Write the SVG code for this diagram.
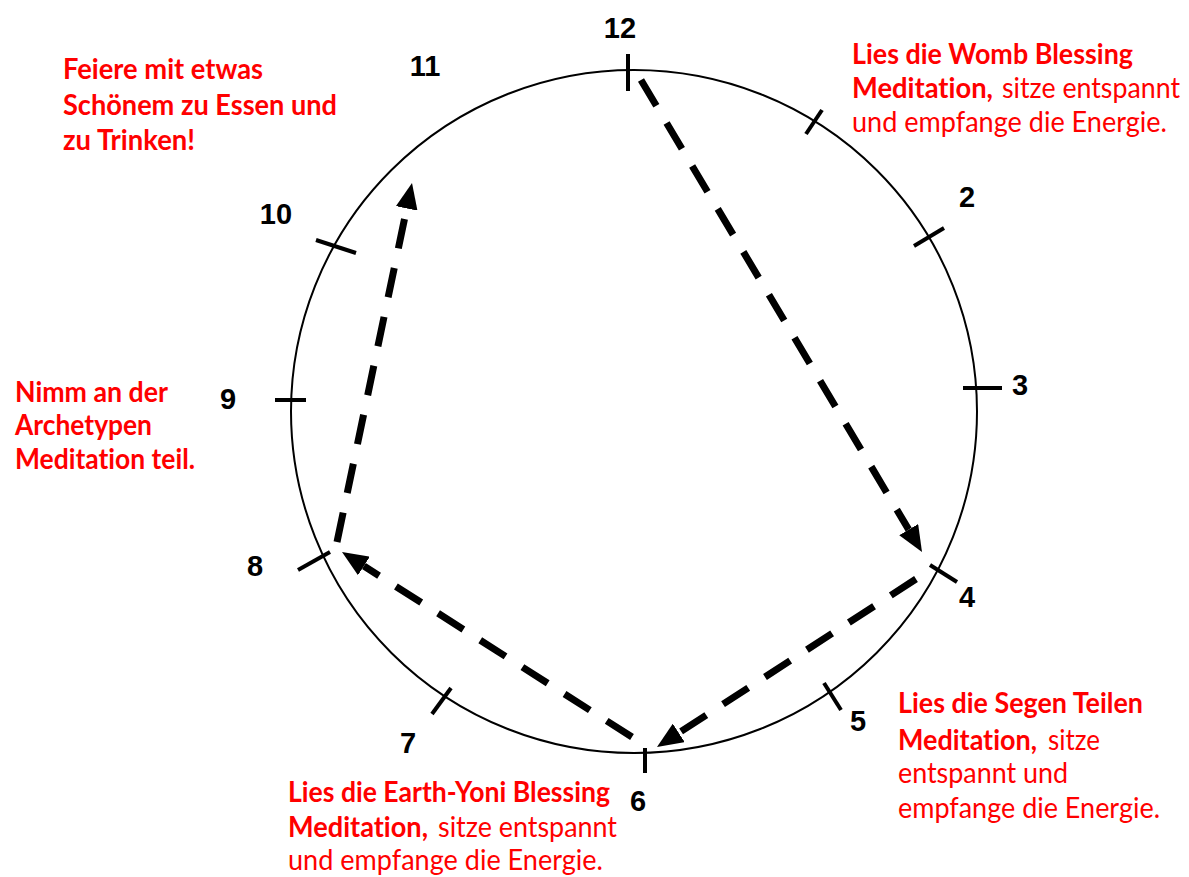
<svg xmlns="http://www.w3.org/2000/svg" width="1189" height="877" viewBox="0 0 1189 877">
<style>
.num{font-family:"Liberation Sans",Arial,sans-serif;font-weight:bold;font-size:29px;fill:#000;text-anchor:middle}
.rb{font-family:Lato,"Liberation Sans",sans-serif;font-weight:bold;font-size:28px;fill:#ff0000;font-variant-ligatures:none}
.rr{font-family:Lato,"Liberation Sans",sans-serif;font-weight:normal;font-size:28px;fill:#ff0000;font-variant-ligatures:none}
.tick{stroke:#000;stroke-width:4;fill:none}
.arr{stroke:#000;stroke-width:7;fill:none;stroke-dasharray:30 20;marker-end:url(#ah)}
</style>
<defs>
<marker id="ah" markerUnits="userSpaceOnUse" viewBox="0 0 26 22" refX="0" refY="11" markerWidth="26" markerHeight="22" orient="auto">
<path d="M0,0 L26,11 L0,22 z" fill="#000"/>
</marker>
</defs>
<rect width="1189" height="877" fill="#fff"/>
<g id="clock">
<ellipse cx="634" cy="411.5" rx="343" ry="341.5" fill="none" stroke="#000" stroke-width="2"/>
<line class="tick" x1="628" y1="54" x2="628" y2="91"/>
<line class="tick" x1="806" y1="134" x2="822" y2="110"/>
<line class="tick" x1="914" y1="246" x2="944" y2="228"/>
<line class="tick" x1="963" y1="388" x2="1002" y2="388"/>
<line class="tick" x1="930" y1="565" x2="957" y2="582"/>
<line class="tick" x1="824" y1="683" x2="841" y2="710"/>
<line class="tick" x1="645" y1="748" x2="645" y2="773"/>
<line class="tick" x1="432" y1="714" x2="451" y2="688"/>
<line class="tick" x1="298" y1="570" x2="330" y2="552"/>
<line class="tick" x1="275" y1="400" x2="306" y2="400"/>
<line class="tick" x1="316" y1="240" x2="356" y2="253"/>
</g>
<g id="labels">
<text class="num" x="620" y="38">12</text>
<text class="num" x="425" y="76">11</text>
<text class="num" x="967" y="207">2</text>
<text class="num" x="1020" y="395">3</text>
<text class="num" x="967" y="607">4</text>
<text class="num" x="858" y="731">5</text>
<text class="num" x="638" y="811">6</text>
<text class="num" x="408" y="753">7</text>
<text class="num" x="255" y="576">8</text>
<text class="num" x="228" y="409">9</text>
<text class="num" x="276" y="224">10</text>
</g>
<g id="connectors">
<path class="arr" d="M641,80 L908.7,529.6"/>
<path class="arr" d="M916,579 L678.8,732.9"/>
<path class="arr" d="M632,737 L363.9,566"/>
<path class="arr" d="M337,542 L406.7,208.4"/>
</g>
<g id="note-top-right">
<text class="rb" x="852" y="64" textLength="281" lengthAdjust="spacingAndGlyphs">Lies die Womb Blessing</text>
<text class="rb" x="852" y="98" textLength="141" lengthAdjust="spacingAndGlyphs">Meditation,</text>
<text class="rr" x="1002" y="98" textLength="178" lengthAdjust="spacingAndGlyphs">sitze entspannt</text>
<text class="rr" x="852" y="132" textLength="315" lengthAdjust="spacingAndGlyphs">und empfange die Energie.</text>
</g>
<g id="note-bottom-right">
<text class="rb" x="898" y="713" textLength="245" lengthAdjust="spacingAndGlyphs">Lies die Segen Teilen</text>
<text class="rb" x="898" y="750" textLength="139" lengthAdjust="spacingAndGlyphs">Meditation,</text>
<text class="rr" x="1048" y="750" textLength="52" lengthAdjust="spacingAndGlyphs">sitze</text>
<text class="rr" x="898" y="783" textLength="170" lengthAdjust="spacingAndGlyphs">entspannt und</text>
<text class="rr" x="898" y="818" textLength="262" lengthAdjust="spacingAndGlyphs">empfange die Energie.</text>
</g>
<g id="note-bottom">
<text class="rb" x="288" y="802" textLength="322" lengthAdjust="spacingAndGlyphs">Lies die Earth-Yoni Blessing</text>
<text class="rb" x="288" y="837" textLength="140" lengthAdjust="spacingAndGlyphs">Meditation,</text>
<text class="rr" x="438" y="837" textLength="179" lengthAdjust="spacingAndGlyphs">sitze entspannt</text>
<text class="rr" x="288" y="870" textLength="315" lengthAdjust="spacingAndGlyphs">und empfange die Energie.</text>
</g>
<g id="note-top-left">
<text class="rb" x="63" y="79" textLength="200" lengthAdjust="spacingAndGlyphs">Feiere mit etwas</text>
<text class="rb" x="63" y="115" textLength="274" lengthAdjust="spacingAndGlyphs">Schönem zu Essen und</text>
<text class="rb" x="63" y="150" textLength="132" lengthAdjust="spacingAndGlyphs">zu Trinken!</text>
</g>
<g id="note-left">
<text class="rb" x="15" y="402" textLength="153" lengthAdjust="spacingAndGlyphs">Nimm an der</text>
<text class="rb" x="15" y="435" textLength="137" lengthAdjust="spacingAndGlyphs">Archetypen</text>
<text class="rb" x="15" y="469" textLength="180" lengthAdjust="spacingAndGlyphs">Meditation teil.</text>
</g>
</svg>
